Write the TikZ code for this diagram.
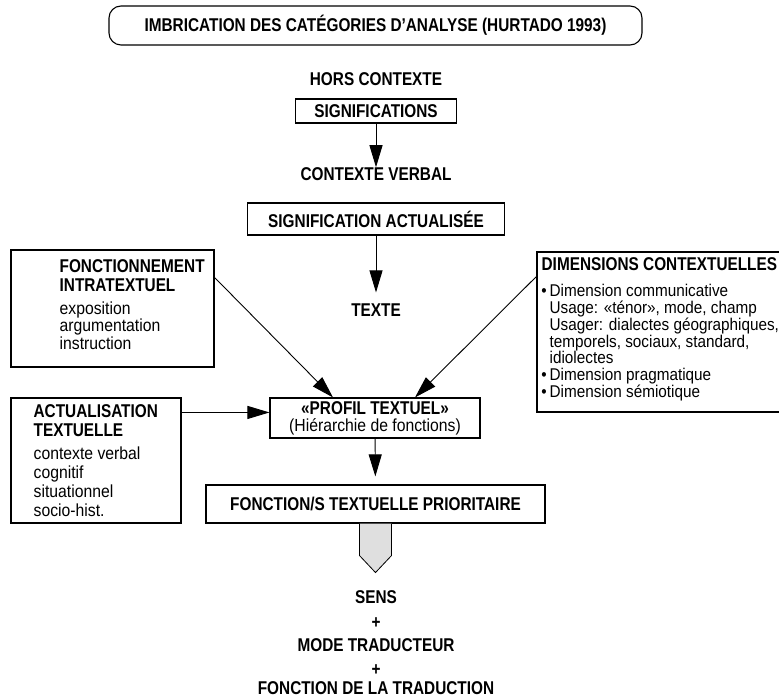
\documentclass[tikz,border=0pt]{standalone}
\usepackage{fontspec}
\setmainfont{Liberation Sans}[FakeStretch=0.9]
\newfontfamily\hdfont{Liberation Sans}[FakeStretch=0.83]
\usetikzlibrary{arrows.meta}

\tikzset{
  hd/.style={font=\hdfont\bfseries\fontsize{18.5}{19}\selectfont, inner sep=0pt},
  bd/.style={font=\fontsize{17.5}{17.5}\selectfont, inner sep=0pt},
  box/.style={draw, line width=1.1pt, rectangle, inner sep=0pt},
  fleche/.style={line width=0.9pt, -{Triangle[length=22pt,width=13pt]}},
}

\begin{document}
\begin{tikzpicture}[x=1pt,y=-1pt]
  \useasboundingbox (0,0) rectangle (779,700);
  \clip (0,0) rectangle (779,700);

  \node[box, hd, rounded corners=12pt, minimum width=533pt, minimum height=39pt] (titre) at (375.5,25.5)
       {IMBRICATION DES CATÉGORIES D’ANALYSE (HURTADO 1993)};

  \node[hd] (hors) at (376,79) {HORS CONTEXTE};
  \node[box, hd, minimum width=161pt, minimum height=24pt] (sig) at (376,111) {SIGNIFICATIONS};
  \node[hd] (cv) at (376,174) {CONTEXTE VERBAL};
  \node[box, hd, minimum width=257pt, minimum height=32pt] (sigact) at (376,219) {SIGNIFICATION ACTUALISÉE};
  \node[hd] (texte) at (376,310) {TEXTE};

  \node[box, minimum width=203pt, minimum height=117pt] (fonc) at (112.5,308.5) {};
  \node[hd, anchor=north west, align=left] (foncT) at ([shift={(49,10)}]fonc.north west)
       {FONCTIONNEMENT\\INTRATEXTUEL};
  \node[bd, anchor=north west, align=left] (foncL) at ([shift={(49,52)}]fonc.north west)
       {exposition\\argumentation\\instruction};

  \node[box, minimum width=263pt, minimum height=160pt] (dim) at (668.5,332) {};
  \node[hd, anchor=north west] (dimT) at ([shift={(5,6)}]dim.north west) {DIMENSIONS CONTEXTUELLES};
  \node[bd, anchor=north west, align=left, font=\fontsize{17}{16.7}\selectfont] (dimL)
       at ([shift={(13,33)}]dim.north west)
       {\llap{\textbullet\,}Dimension communicative\\
        Usage: «ténor», mode, champ\\
        Usager: dialectes géographiques,\\
        temporels, sociaux, standard,\\
        idiolectes\\
        \llap{\textbullet\,}Dimension pragmatique\\
        \llap{\textbullet\,}Dimension sémiotique};

  \node[box, minimum width=170pt, minimum height=125pt] (actu) at (96,460.5) {};
  \node[hd, anchor=north west, align=left, font=\hdfont\bfseries\fontsize{18.5}{18.5}\selectfont] (actuT)
       at ([shift={(23,7)}]actu.north west) {ACTUALISATION\\TEXTUELLE};
  \node[bd, anchor=north west, align=left, font=\fontsize{17.5}{19}\selectfont] (actuL)
       at ([shift={(23,49)}]actu.north west) {contexte verbal\\cognitif\\situationnel\\socio-hist.};

  \node[box, align=center, minimum width=210pt, minimum height=40pt, font=\fontsize{17.5}{17}\selectfont] (profil) at (375,418)
       {{\hdfont\bfseries\fontsize{18.5}{17}\selectfont «PROFIL TEXTUEL»}\\(Hiérarchie de fonctions)};
  \node[box, hd, minimum width=339pt, minimum height=38pt] (prio) at (375.5,504) {FONCTION/S TEXTUELLE PRIORITAIRE};

  \draw[fleche] (sig) -- (cv);
  \draw[fleche, shorten >=11pt] (sigact) -- (texte);
  \draw[fleche] ([yshift=-28pt]fonc.north east) -- ([xshift=-42pt]profil.north);
  \draw[fleche] ([yshift=-25pt]dim.north west) -- ([xshift=40pt]profil.north);
  \draw[fleche] ([yshift=-15pt]actu.north east) -- ([yshift=-15pt]profil.north west);
  \draw[fleche, shorten >=8pt] (profil) -- (prio);

  \draw[line width=0.8pt, fill=gray!25] ([xshift=-16pt]prio.south) -- ++(0,32) -- ++(16,17) -- ++(16,-17) -- ++(0,-32);

  \node[hd] (sens) at (376,597) {SENS};
  \node[hd] (plus1) at (376,623) {+};
  \node[hd] (mode) at (376,645) {MODE TRADUCTEUR};
  \node[hd] (plus2) at (376,670) {+};
  \node[hd] (fct) at (376,688) {FONCTION DE LA TRADUCTION};
\end{tikzpicture}
\end{document}
